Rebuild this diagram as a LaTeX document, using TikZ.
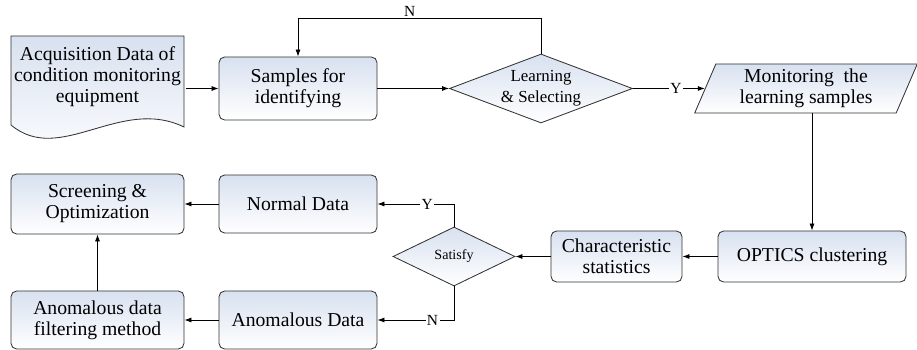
\documentclass[tikz,border=0pt]{standalone}
\usepackage{fontspec}
\setmainfont{Liberation Serif}
\usepackage{tikz}
\usetikzlibrary{shapes.geometric, arrows.meta, positioning, calc}
\usepackage{xcolor}
\definecolor{boxtop}{RGB}{216,225,240}

\begin{document}
\begin{tikzpicture}[
        >={Latex[length=5pt,width=3.6pt]},
        line width=0.6pt,
        box/.style={rectangle, draw=black!80, top color=boxtop, bottom color=white, rounded corners=4pt, align=center, font=\fontsize{14}{15}\selectfont},
        cond/.style={diamond, draw=black!80, top color=boxtop, bottom color=white, inner sep=0pt, align=center},
        io/.style={trapezium, trapezium left angle=71, trapezium right angle=109, trapezium stretches=true, draw=black!80, top color=boxtop, bottom color=white, align=center, font=\fontsize{14}{15}\selectfont},
        lbl/.style={fill=white, inner sep=1pt, font=\fontsize{11}{12}\selectfont}
    ]
        \useasboundingbox (0,0) rectangle (22.925,8.75);

        % Document shape
        \draw[draw=black!80, top color=boxtop, bottom color=white] (0.275,7.85) -- (4.6,7.85) -- (4.6,5.575) .. controls (3.0,6.35) and (1.5,4.6) .. (0.275,5.625) -- cycle;
        \node[align=center, minimum width=4.325cm, font=\fontsize{14}{15}\selectfont] (doc) at (2.4375, 6.825) {Acquisition Data of\\condition monitoring\\equipment};

        % Top row
        \node[box, minimum width=3.95cm, minimum height=1.575cm] (samples) at (7.45, 6.5375) {Samples for\\identifying};
        \node[cond, aspect=2.65, minimum width=4.575cm, minimum height=1.725cm, font=\fontsize{12}{14.7}\selectfont] (learn) at (13.525, 6.5375) {Learning\\\& Selecting};
        \node[io, minimum width=5.575cm, minimum height=1.225cm] (monitor) at (20.15, 6.5375) {Monitoring~ the\\learning samples};

        % Middle row
        \node[box, minimum width=4.7cm, minimum height=1.275cm] (optics) at (20.3, 2.3375) {OPTICS clustering};
        \node[box, minimum width=3.275cm, minimum height=1.275cm] (charac) at (15.4125, 2.3375) {Characteristic\\statistics};
        \node[cond, aspect=2.07, minimum width=3.05cm, minimum height=1.475cm, font=\fontsize{10}{12}\selectfont] (satisfy) at (11.35, 2.3375) {Satisfy};

        % Left columns
        \node[box, minimum width=3.95cm, minimum height=1.45cm] (normal) at (7.45, 3.65) {Normal Data};
        \node[box, minimum width=3.95cm, minimum height=1.45cm] (anomal) at (7.45, 0.75) {Anomalous Data};
        \node[box, minimum width=4.325cm, minimum height=1.5cm] (screen) at (2.4375, 3.65) {Screening \&\\Optimization};
        \node[box, minimum width=4.325cm, minimum height=1.45cm] (filter) at (2.4375, 0.75) {Anomalous data\\filtering method};

        % Connectors
        \draw[->] (doc.east |- samples.west) -- (samples.west);
        \draw[->] (samples.east) -- (learn.west);
        \draw[->] (learn.north) -- ++(0,0.875) -| node[pos=0.27, above, inner sep=1pt, font=\fontsize{11}{12}\selectfont] {N} (samples.north);
        \draw[->] (learn.east) -- node[lbl, pos=0.6] {Y} (monitor.west);
        \draw[->] (monitor.south -| optics.north) -- (optics.north);
        \draw[->] (optics.west) -- (charac.east);
        \draw[->] (charac.west) -- (satisfy.east);
        \draw[->] (satisfy.north) |- node[lbl, pos=0.675] {Y} (normal.east);
        \draw[->] (satisfy.south) |- node[lbl, pos=0.64] {N} (anomal.east);
        \draw[->] (normal.west) -- (screen.east);
        \draw[->] (anomal.west) -- (filter.east);
        \draw[->] (filter.north) -- (screen.south);

    \end{tikzpicture}
\end{document}
